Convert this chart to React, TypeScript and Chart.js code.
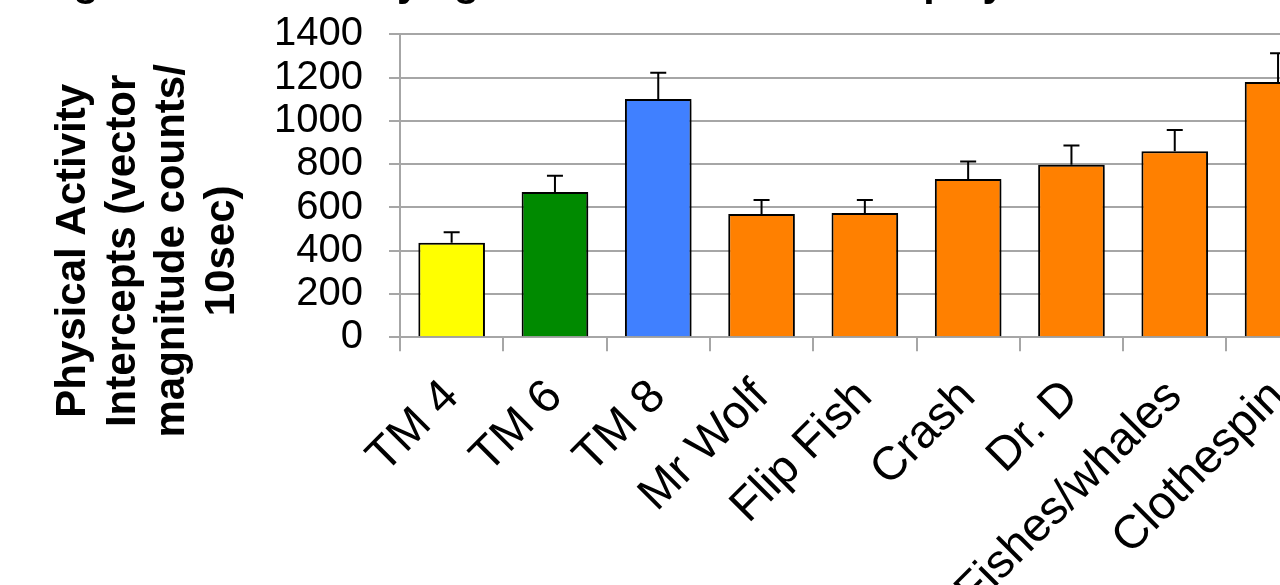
import React, { useEffect, useRef } from "react";
import { Chart, registerables } from "chart.js";

Chart.register(...registerables);

const categories = ["TM 4", "TM 6", "TM 8", "Mr Wolf", "Flip Fish", "Crash", "Dr. D", "Fishes/whales", "Clothespin"];
const meanValues = [437, 672, 1101, 570, 575, 732, 798, 860, 1180];
const errorValues = [48, 75, 122, 65, 60, 80, 88, 98, 133];
const barColors = ["#FFFF00", "#008A00", "#4080FF", "#FF8000", "#FF8000", "#FF8000", "#FF8000", "#FF8000", "#FF8000"];
const yMin = 0;
const yMax = 1400;
const yStep = 200;
const titleText = "Figure 3. Counts by age and treadmill versus play";
const yTitleLines = ["Physical Activity", "Intercepts (vector", "magnitude counts/", "10sec)"];

const FONT = "'Liberation Sans', Arial, Helvetica, sans-serif";
const GRID = "#a6a6a6";
const CANVAS_W = 1340;
const CANVAS_H = 645;
const OFFSET_TOP = 60;

const decorPlugin = {
  id: "decor",
  beforeDatasetsDraw(chart: any) {
    const ctx = chart.ctx;
    ctx.save();
    ctx.shadowColor = "rgba(0,0,0,0.28)";
    ctx.shadowBlur = 6;
    ctx.shadowOffsetX = 3;
    ctx.shadowOffsetY = 2;
  },
  afterDatasetsDraw(chart: any) {
    const ctx = chart.ctx;
    ctx.restore();
    const meta = chart.getDatasetMeta(0);
    const y = chart.scales.y;
    ctx.save();
    ctx.strokeStyle = "#000";
    ctx.lineWidth = 2;
    meta.data.forEach((bar: any, i: number) => {
      const x = bar.x;
      const top = y.getPixelForValue(meanValues[i]);
      const hi = y.getPixelForValue(meanValues[i] + errorValues[i]);
      ctx.beginPath();
      ctx.moveTo(x, top);
      ctx.lineTo(x, hi);
      ctx.moveTo(x - 8, hi);
      ctx.lineTo(x + 8, hi);
      ctx.stroke();
    });
    ctx.restore();
  },
  afterDraw(chart: any) {
    const ctx = chart.ctx;
    const area = chart.chartArea;
    ctx.save();
    ctx.fillStyle = "#000";
    // chart title (mostly above the visible page)
    ctx.font = `bold 41px ${FONT}`;
    ctx.textAlign = "left";
    ctx.textBaseline = "alphabetic";
    ctx.fillText(titleText, 37, OFFSET_TOP - 4);
    // y axis title
    ctx.font = `bold 42px ${FONT}`;
    ctx.textAlign = "center";
    const cy = (area.top + area.bottom) / 2 + 65;
    yTitleLines.forEach((line, i) => {
      ctx.save();
      ctx.translate(85 + i * 49.5, cy);
      ctx.rotate(-Math.PI / 2);
      ctx.fillText(line, 0, 0);
      ctx.restore();
    });
    ctx.restore();
  },
};

export default function App() {
  const ref = useRef<HTMLCanvasElement | null>(null);

  useEffect(() => {
    if (!ref.current) return;
    const chart = new Chart(ref.current, {
      type: "bar",
      data: {
        labels: categories,
        datasets: [
          {
            data: meanValues,
            backgroundColor: barColors,
            borderColor: "#000",
            borderWidth: 2,
            barPercentage: 0.645,
            categoryPercentage: 1,
          },
        ],
      },
      options: {
        responsive: false,
        devicePixelRatio: 1,
        animation: false,
        layout: { padding: { top: 94.4, left: 0, right: 10.3, bottom: 0 } },
        plugins: {
          legend: { display: false },
          title: { display: false },
          tooltip: { enabled: false },
        },
        scales: {
          x: {
            afterFit(scale: any) {
              scale.height = CANVAS_H - (OFFSET_TOP + 337.3);
            },
            grid: {
              offset: true,
              drawOnChartArea: false,
              drawTicks: true,
              tickLength: 14,
              color: GRID,
              lineWidth: 2,
            },
            border: { display: true, color: GRID, width: 2 },
            ticks: {
              color: "#000",
              font: { family: FONT, size: 47 },
              minRotation: 45,
              maxRotation: 45,
              autoSkip: false,
              padding: 18,
            },
          },
          y: {
            min: yMin,
            max: yMax,
            afterFit(scale: any) {
              scale.width = 400;
            },
            grid: {
              color: GRID,
              lineWidth: 2,
              drawTicks: true,
              tickLength: 11,
            },
            border: { display: true, color: GRID, width: 2 },
            ticks: {
              stepSize: yStep,
              autoSkip: false,
              color: "#000",
              font: { family: FONT, size: 40 },
              padding: 26,
              callback: (v: any) => String(v),
            },
          },
        },
      },
      plugins: [decorPlugin],
    });
    return () => chart.destroy();
  }, []);

  return (
    <div
      style={{
        position: "fixed",
        left: 0,
        top: 0,
        width: 1280,
        height: 585,
        overflow: "hidden",
        background: "#fff",
      }}
    >
      <canvas
        ref={ref}
        width={CANVAS_W}
        height={CANVAS_H}
        style={{ position: "absolute", left: 0, top: -OFFSET_TOP, width: CANVAS_W, height: CANVAS_H }}
      />
    </div>
  );
}
